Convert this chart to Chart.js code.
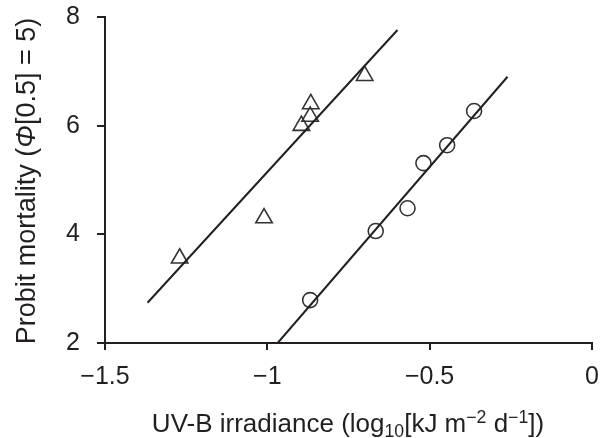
<!DOCTYPE html>
<html>
<head>
<meta charset="utf-8">
<script src="https://cdn.jsdelivr.net/npm/chart.js@4/dist/chart.umd.min.js"></script>
<style>
  body { margin: 0; background: #fff; }
  #wrap { width: 603px; height: 438px; }
</style>
</head>
<body>
<div id="wrap"><canvas id="probitChart"></canvas></div>
<script>
// Triangles (first group) and circles (second group)
const triX = [-1.27, -1.01, -0.895, -0.868, -0.866, -0.70];
const triY = [3.56, 4.30, 6.00, 6.17, 6.40, 6.92];
const cirX = [-0.868, -0.666, -0.568, -0.519, -0.446, -0.363];
const cirY = [2.79, 4.06, 4.48, 5.31, 5.64, 6.27];

// Fitted lines, end points
const triFitX = [-1.369, -0.599];
const triFitY = [2.74, 7.76];
const cirFitX = [-0.968, -0.260];
const cirFitY = [2.0, 6.90];

// Axis ticks
const xTicks = [-1.5, -1, -0.5, 0];
const yTicks = [2, 4, 6, 8];

const ink = '#231f20';
const fontFamily = "'Liberation Sans', Arial, Helvetica, sans-serif";

function pts(xs, ys) {
    return xs.map((x, i) => ({ x: x, y: ys[i] }));
}

// Axis titles with italic / sub / superscript parts
const axisTitles = {
    id: 'axisTitles',
    afterDraw(chart) {
        const ctx = chart.ctx;
        const area = chart.chartArea;

        function drawParts(parts, cx, baseY, size) {
            let total = 0;
            parts.forEach(p => {
                ctx.font = (p.italic ? 'italic ' : '') + (p.small ? size * 0.68 : size) + 'px ' + fontFamily;
                p.w = ctx.measureText(p.t).width;
                total += p.w;
            });
            let x = cx - total / 2;
            parts.forEach(p => {
                ctx.font = (p.italic ? 'italic ' : '') + (p.small ? size * 0.68 : size) + 'px ' + fontFamily;
                ctx.fillText(p.t, x, baseY + (p.dy || 0));
                x += p.w;
            });
        }

        ctx.save();
        ctx.fillStyle = ink;
        ctx.textBaseline = 'alphabetic';
        ctx.textAlign = 'left';

        // x title
        drawParts([
            { t: 'UV-B irradiance (log' },
            { t: '10', small: true, dy: 5 },
            { t: '[kJ m' },
            { t: '\u22122', small: true, dy: -9 },
            { t: ' d' },
            { t: '\u22121', small: true, dy: -9 },
            { t: '])' }
        ], 348, 432, 26);

        // y title (rotated)
        ctx.translate(35, (area.top + area.bottom) / 2 + 1);
        ctx.rotate(-Math.PI / 2);
        drawParts([
            { t: 'Probit mortality (' },
            { t: '\u03A6', italic: true },
            { t: '[0.5] = 5)' }
        ], 0, 0, 27);
        ctx.restore();
    }
};

const ctx = document.getElementById('probitChart').getContext('2d');

new Chart(ctx, {
    type: 'scatter',
    data: {
        datasets: [
            {
                data: pts(triFitX, triFitY),
                showLine: true,
                pointRadius: 0,
                borderColor: ink,
                borderWidth: 2
            },
            {
                data: pts(cirFitX, cirFitY),
                showLine: true,
                pointRadius: 0,
                borderColor: ink,
                borderWidth: 2
            },
            {
                data: pts(triX, triY),
                pointStyle: 'triangle',
                pointRadius: 9.5,
                pointBorderWidth: 1.6,
                borderColor: '#333',
                backgroundColor: 'rgba(0,0,0,0)'
            },
            {
                data: pts(cirX, cirY),
                pointStyle: 'circle',
                pointRadius: 7.5,
                pointBorderWidth: 1.6,
                borderColor: '#333',
                backgroundColor: 'rgba(0,0,0,0)'
            }
        ]
    },
    options: {
        responsive: true,
        maintainAspectRatio: false,
        animation: false,
        layout: {
            padding: { left: 0, right: 6, top: 17, bottom: 0 }
        },
        plugins: {
            legend: { display: false },
            tooltip: { enabled: false }
        },
        scales: {
            x: {
                type: 'linear',
                min: -1.5,
                max: 0,
                afterFit: function(scale) {
                    scale.height = 95;
                    scale.paddingLeft = 0;
                    scale.paddingRight = 0;
                },
                afterBuildTicks: function(scale) {
                    scale.ticks = xTicks.map(v => ({ value: v }));
                },
                border: { color: ink, width: 2 },
                grid: {
                    drawOnChartArea: false,
                    drawTicks: true,
                    tickLength: 7,
                    color: ink,
                    lineWidth: 2
                },
                ticks: {
                    color: ink,
                    padding: 12,
                    font: { family: fontFamily, size: 25 },
                    maxRotation: 0,
                    callback: v => v === 0 ? '0' : String(v).replace('-', '\u2212')
                }
            },
            y: {
                type: 'linear',
                min: 2,
                max: 8,
                afterFit: function(scale) {
                    scale.width = 105;
                    scale.paddingTop = 0;
                    scale.paddingBottom = 0;
                },
                afterBuildTicks: function(scale) {
                    scale.ticks = yTicks.map(v => ({ value: v }));
                },
                border: { color: ink, width: 2 },
                grid: {
                    drawOnChartArea: false,
                    drawTicks: true,
                    tickLength: 8,
                    color: ink,
                    lineWidth: 2
                },
                ticks: {
                    color: ink,
                    padding: 17,
                    font: { family: fontFamily, size: 25 },
                    callback: v => String(v)
                }
            }
        }
    },
    plugins: [axisTitles]
});
</script>
</body>
</html>
